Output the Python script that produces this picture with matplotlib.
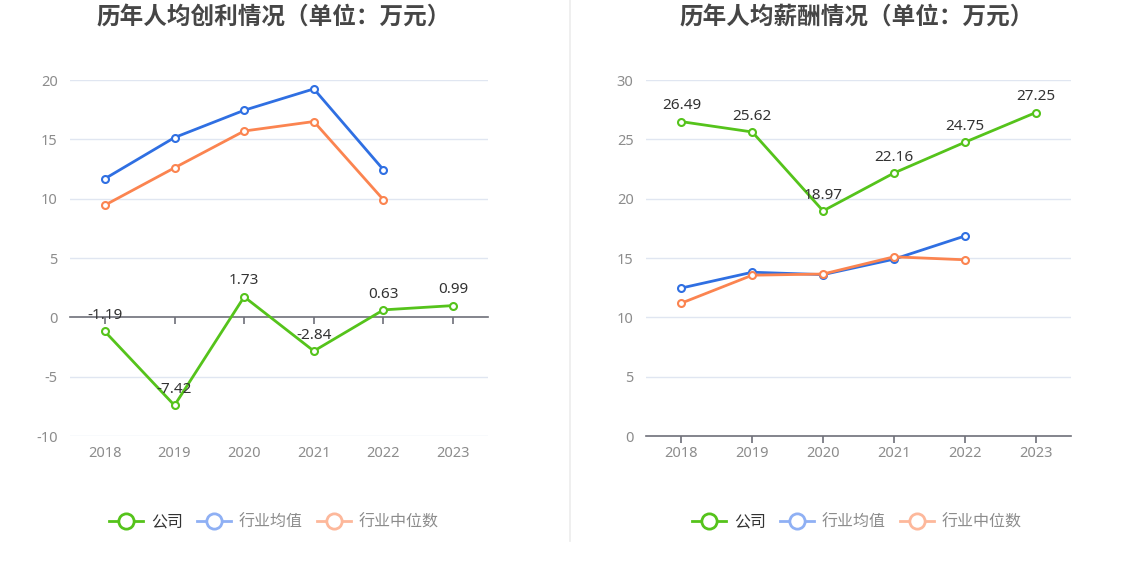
import matplotlib
matplotlib.use("Agg")
import matplotlib.pyplot as plt
from matplotlib.lines import Line2D
import matplotlib.transforms as mtransforms

plt.rcParams['font.family'] = ['Noto Sans', 'Noto Sans CJK SC', 'DejaVu Sans']

years = ['2018', '2019', '2020', '2021', '2022', '2023']

# Left chart: per-capita profit (10k yuan)
profit_company = [-1.19, -7.42, 1.73, -2.84, 0.63, 0.99]
profit_ind_mean = [11.68, 15.15, 17.45, 19.25, 12.43]
profit_ind_median = [9.45, 12.6, 15.7, 16.5, 9.9]

# Right chart: per-capita salary (10k yuan)
salary_company = [26.49, 25.62, 18.97, 22.16, 24.75, 27.25]
salary_ind_mean = [12.47, 13.8, 13.6, 14.9, 16.85]
salary_ind_median = [11.2, 13.55, 13.65, 15.1, 14.85]

titles = ['历年人均创利情况（单位：万元）', '历年人均薪酬情况（单位：万元）']
legend_labels = ['公司', '行业均值', '行业中位数']

C_GREEN = '#55c31b'
C_BLUE = '#2f6fe2'
C_ORANGE = '#fb8450'
C_GREEN_L = '#55c31b'
C_BLUE_L = '#8fb0f4'
C_ORANGE_L = '#fdb89b'
GRID = '#e0e6f1'
AXIS = '#6e7079'
TICK = '#8c8c8c'
CJK = ['Noto Sans CJK SC', 'DejaVu Sans']

W, H = 1134, 582
fig = plt.figure(figsize=(W / 100, H / 100), dpi=100)
fig.patch.set_facecolor('white')


def px_axes(x0, x1, ytop, ybot):
    return fig.add_axes([x0 / W, 1 - ybot / H, (x1 - x0) / W, (ybot - ytop) / H])


def draw(ax, company, mean, median, ylim, yticks, title, cx):
    n = len(years)
    xs = list(range(n))
    ax.set_xlim(-0.5, n - 0.5)
    ax.set_ylim(*ylim)
    for s in ['top', 'right', 'left']:
        ax.spines[s].set_visible(False)
    ax.spines['bottom'].set_position(('data', 0))
    ax.spines['bottom'].set_color(AXIS)
    ax.spines['bottom'].set_linewidth(1.2)
    ax.set_xticks(xs)
    ax.tick_params(axis='x', direction='out', length=5, width=1.2, color=AXIS,
                   labelbottom=False)
    ax.set_yticks(yticks)
    ax.set_yticklabels([str(v) for v in yticks])
    ax.tick_params(axis='y', length=0, pad=9, labelsize=10.5, labelcolor=TICK)
    for v in yticks:
        if v != 0:
            ax.axhline(v, color=GRID, lw=1, zorder=0)
    trans = mtransforms.blended_transform_factory(ax.transData, ax.transAxes)
    for i, y in enumerate(years):
        ax.text(i, -0.05, y, transform=trans, ha='center', va='center',
                fontsize=10.5, color=TICK)

    mk = dict(marker='o', markersize=5, markerfacecolor='white', markeredgewidth=1.5)
    ax.plot(xs[:len(mean)], mean, color=C_BLUE, lw=2, zorder=3, markeredgecolor=C_BLUE, **mk)
    ax.plot(xs[:len(median)], median, color=C_ORANGE, lw=2, zorder=3, markeredgecolor=C_ORANGE, **mk)
    ax.plot(xs, company, color=C_GREEN, lw=2, zorder=4, markeredgecolor=C_GREEN, **mk)
    for i, v in enumerate(company):
        ax.annotate(f'{v:.2f}', (i, v), xytext=(0, 6), textcoords='offset points',
                    ha='center', va='bottom', fontsize=11, color='#333333', zorder=5)

    fig.text(cx / W, 1 - 18 / H, title, ha='center', va='center', fontsize=17,
             fontweight='bold', color='#464646', family=CJK)

    handles = [
        Line2D([], [], color=C_GREEN_L, lw=2, marker='o', markersize=11,
               markerfacecolor='white', markeredgewidth=2, markeredgecolor=C_GREEN_L),
        Line2D([], [], color=C_BLUE_L, lw=2, marker='o', markersize=11,
               markerfacecolor='white', markeredgewidth=2, markeredgecolor=C_BLUE_L),
        Line2D([], [], color=C_ORANGE_L, lw=2, marker='o', markersize=11,
               markerfacecolor='white', markeredgewidth=2, markeredgecolor=C_ORANGE_L),
    ]
    leg = fig.legend(handles, legend_labels, loc='center',
                     bbox_to_anchor=(cx / W, 1 - 522 / H), ncol=3, frameon=False,
                     handlelength=2.1, handletextpad=0.5, columnspacing=0.9,
                     prop={'family': CJK, 'size': 11.5})
    for t, c in zip(leg.get_texts(), ['#333333', '#8c8c8c', '#8c8c8c']):
        t.set_color(c)


axL = px_axes(70, 488, 80, 436)
draw(axL, profit_company, profit_ind_mean, profit_ind_median, (-10, 20),
     [-10, -5, 0, 5, 10, 15, 20], titles[0], 274)

axR = px_axes(646, 1071, 80, 436)
draw(axR, salary_company, salary_ind_mean, salary_ind_median, (0, 30),
     [0, 5, 10, 15, 20, 25, 30], titles[1], 857)

fig.add_artist(Line2D([570 / W, 570 / W], [1 - 541 / H, 1], color='#ececec', lw=1.2))

fig.savefig('out.png', dpi=100, facecolor='white')
